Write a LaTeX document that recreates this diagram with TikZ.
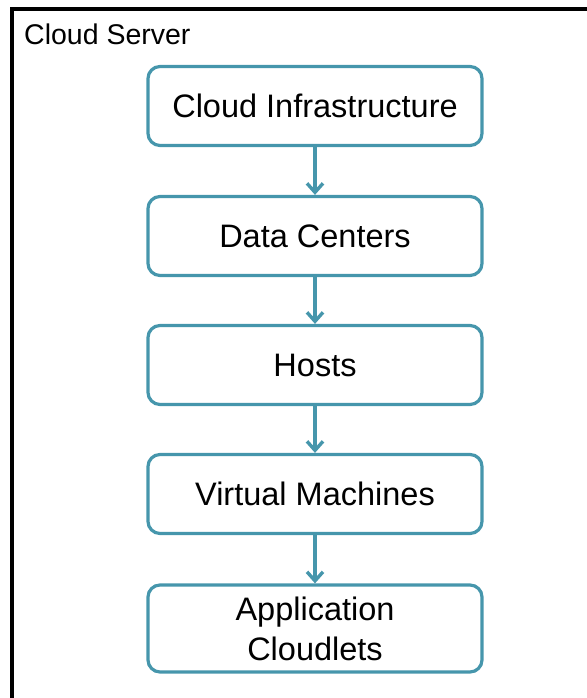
\documentclass[tikz,border=0pt]{standalone}
\usepackage{fontspec}
\setmainfont{Liberation Sans}
\usetikzlibrary{arrows.meta}
\definecolor{layerteal}{HTML}{4696AC}

\tikzset{
  layer/.style={draw=layerteal, line width=3.2pt, fill=white, rounded corners=12pt,
    minimum width=334pt, minimum height=79pt, align=center,
    font=\fontsize{32.5}{40}\selectfont},
  feeds/.style={draw=layerteal, line width=3.4pt, -{Straight Barb[length=9pt, width=16pt]}}
}

\begin{document}
\begin{tikzpicture}[x=1pt, y=1pt]
      \useasboundingbox (0,0) rectangle (586,698);
      \draw[line width=3.2pt] (12,689) rectangle (600,-20);
      \node[anchor=west, inner sep=0pt, font=\fontsize{28.5}{34}\selectfont] (title) at (24,664) {Cloud Server};

      \node[layer] (infra) at (315,592) {Cloud Infrastructure};
      \node[layer] (dc) at (315,462) {Data Centers};
      \node[layer] (hosts) at (315,333) {Hosts};
      \node[layer] (vms) at (315,204) {Virtual Machines};
      \node[layer, minimum height=87pt] (cloudlets) at (315,69.5) {Application\\Cloudlets};

      \draw[feeds] (infra) -- (dc);
      \draw[feeds] (dc) -- (hosts);
      \draw[feeds] (hosts) -- (vms);
      \draw[feeds] (vms) -- (cloudlets);
    \end{tikzpicture}
\end{document}
